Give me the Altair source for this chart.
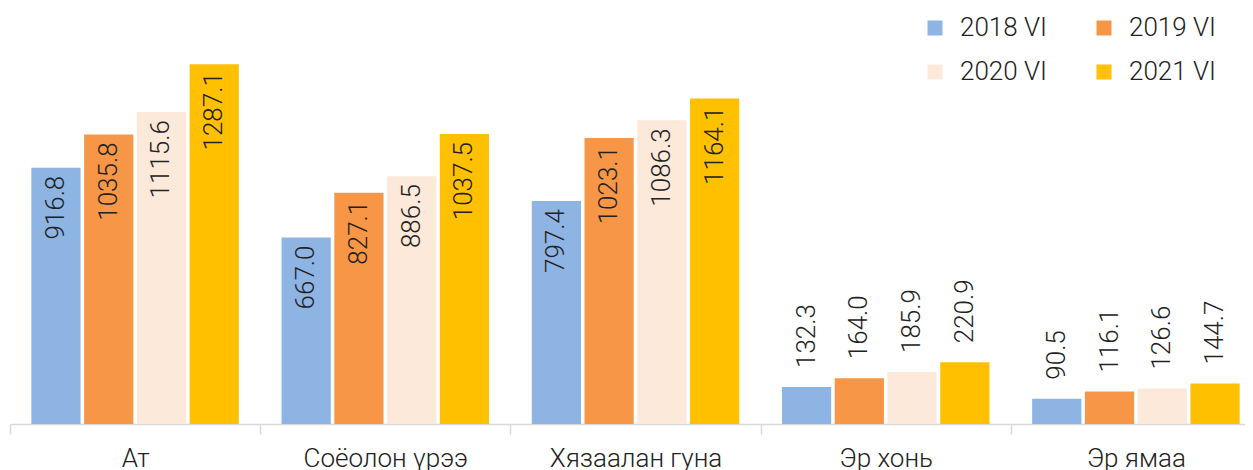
import altair as alt
import pandas as pd

categories = ["Ат", "Соёолон үрээ", "Хязаалан гуна", "Эр хонь", "Эр ямаа"]
series = ["2018 VI", "2019 VI", "2020 VI", "2021 VI"]
v2018 = [916.8, 667.0, 797.4, 132.3, 90.5]
v2019 = [1035.8, 827.1, 1023.1, 164.0, 116.1]
v2020 = [1115.6, 886.5, 1086.3, 185.9, 126.6]
v2021 = [1287.1, 1037.5, 1164.1, 220.9, 144.7]
colors = ["#8EB4E3", "#F79646", "#FDE9D9", "#FFC000"]

rows = []
for s, vals in zip(series, [v2018, v2019, v2020, v2021]):
    for c, v in zip(categories, vals):
        rows.append({"cat": c, "series": s, "value": v})
df = pd.DataFrame(rows)

# legend is filled column by column: order the colour domain so rows read 2018|2019, 2020|2021
legend_order = [series[0], series[2], series[1], series[3]]
legend_colors = [colors[0], colors[2], colors[1], colors[3]]

FONT = "Roboto"
FS = 26

x = alt.X("cat:N", sort=categories, title=None,
          scale=alt.Scale(paddingInner=0, paddingOuter=0, range=[0, 1251]),
          axis=alt.Axis(labelAngle=0, labelFontSize=FS, labelFont=FONT, labelFontWeight=300,
                        labelColor="#222222", domainColor="#D9D9D9", domainWidth=1.5,
                        tickColor="#D9D9D9", tickWidth=1.5, tickSize=10, tickBand="extent",
                        labelPadding=11))
xoff = alt.XOffset("series:N", sort=series,
                   scale=alt.Scale(paddingInner=0.067, paddingOuter=0.405))
y = alt.Y("value:Q", scale=alt.Scale(domain=[0, 1488]), axis=None)

bars = alt.Chart(df).mark_bar().encode(
    x=x, xOffset=xoff, y=y,
    color=alt.Color("series:N",
                    scale=alt.Scale(domain=legend_order, range=legend_colors),
                    legend=alt.Legend(title=None, orient="none", legendX=912, legendY=7,
                                      direction="vertical",
                                      columns=2, symbolType="square", symbolSize=225,
                                      symbolStrokeWidth=0, labelFontSize=FS, labelFont=FONT,
                                      labelFontWeight=300, labelColor="#222222",
                                      columnPadding=43, rowPadding=18, labelOffset=12,
                                      padding=0)),
)

text_in = alt.Chart(df).transform_filter("datum.value > 400").mark_text(
    angle=270, align="right", baseline="middle", dx=-8, fontSize=FS, font=FONT,
    fontWeight=300, color="#222222"
).encode(x=x, xOffset=xoff, y=y, text=alt.Text("value:Q", format=".1f"))

text_out = alt.Chart(df).transform_filter("datum.value <= 400").mark_text(
    angle=270, align="left", baseline="middle", dx=19, fontSize=FS, font=FONT,
    fontWeight=300, color="#222222"
).encode(x=x, xOffset=xoff, y=y, text=alt.Text("value:Q", format=".1f"))

chart = alt.layer(bars, text_in, text_out).properties(
    width=1235, height=416,
    padding={"left": 2, "top": 0, "right": 0, "bottom": 54},
    autosize=alt.AutoSizeParams(type="none"),
).configure_view(stroke=None)

chart.save("out.html", embed_options={"renderer": "svg", "actions": False})
